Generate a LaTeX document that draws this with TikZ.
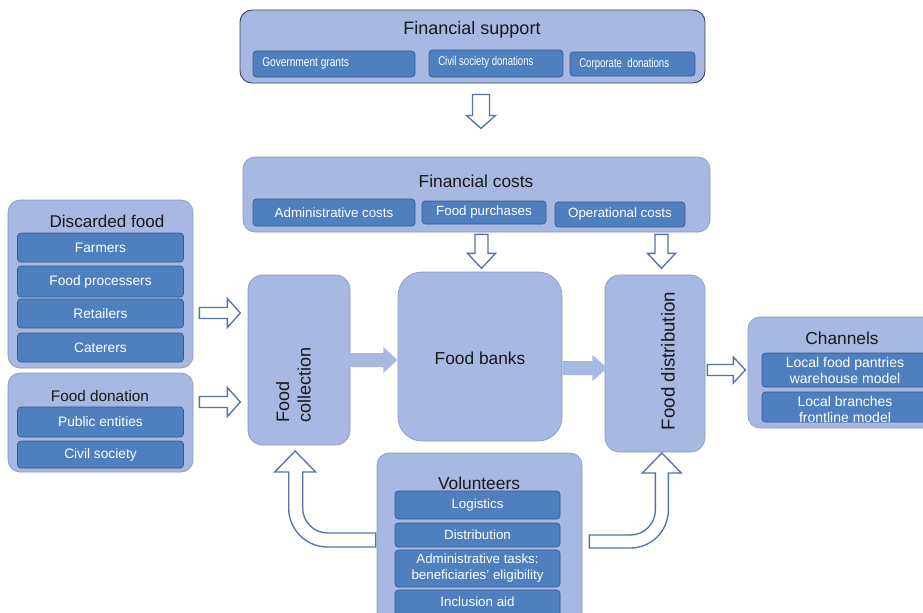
\documentclass[tikz,border=0pt]{standalone}
\usepackage{fontspec}
\setmainfont{Liberation Sans}
\usepackage{graphicx}
\usetikzlibrary{calc}
\definecolor{boxblue}{RGB}{167,184,226}
\definecolor{boxline}{RGB}{140,152,185}
\definecolor{darkline}{RGB}{60,65,85}
\definecolor{subblue}{RGB}{79,127,190}
\definecolor{subline}{RGB}{55,90,145}
\definecolor{arrline}{RGB}{85,115,165}
\newcommand\sx[2]{\scalebox{#1}[1]{#2}}
\newcommand\fs[1]{\fontsize{#1}{#1}\selectfont\baselineskip=1.2\baselineskip}
% down block arrow: style, start, length, shaft half, head half, head length
\newcommand\barrowD[6]{\path[#1] ($(#2)+(-#4,0)$) -- ($(#2)+(#4,0)$) -- ($(#2)+(#4,#3-#6)$) -- ($(#2)+(#5,#3-#6)$) -- ($(#2)+(0,#3)$) -- ($(#2)+(-#5,#3-#6)$) -- ($(#2)+(-#4,#3-#6)$) -- cycle;}
% right block arrow
\newcommand\barrowR[6]{\path[#1] ($(#2)+(0,-#4)$) -- ($(#2)+(#3-#6,-#4)$) -- ($(#2)+(#3-#6,-#5)$) -- ($(#2)+(#3,0)$) -- ($(#2)+(#3-#6,#5)$) -- ($(#2)+(#3-#6,#4)$) -- ($(#2)+(0,#4)$) -- cycle;}
\begin{document}
\begin{tikzpicture}[x=0.75pt,y=-0.75pt,
  outer/.style 2 args={draw=boxline, fill=boxblue, rounded corners=9pt, minimum width=#1*0.75pt, minimum height=#2*0.75pt, inner sep=0pt, line width=0.5pt},
  sub/.style 2 args={draw=subline, fill=subblue, rounded corners=2.5pt, minimum width=#1*0.75pt, minimum height=#2*0.75pt, inner sep=0pt, text=white, line width=0.5pt, align=center},
  ttl/.style={inner sep=0pt, text=black!90},
  stxt/.style={inner sep=0pt, text=white},
  barrow/.style={draw=arrline, fill=white, line width=1pt, line join=miter},
  farrow/.style={fill=boxblue},
]
\useasboundingbox (0,0) rectangle (923,612);
\fill[white] (0,0) rectangle (923,612);
\clip (0,0) rectangle (923,612);

% Financial support
\node[outer={465}{73}, draw=darkline, line width=0.7pt] (fsup) at (472.5,46.5) {};
\node[ttl, font=\fs{13.5}] (fsupt) at (472,30) {Financial support};
\node[sub={162}{26}] (gov) at (334,64) {};
\node[stxt, anchor=west, font=\fs{9.5}] (govt) at (262,63) {\sx{0.8}{Government grants}};
\node[sub={134}{27}] (civ) at (496,63.5) {};
\node[stxt, anchor=west, font=\fs{9.5}] (civt) at (438,62) {\sx{0.76}{Civil society donations}};
\node[sub={125}{24}] (corp) at (632.5,64) {};
\node[stxt, anchor=west, font=\fs{9.5}] (corpt) at (579,64.5) {\sx{0.76}{Corporate\ \ donations}};

% Financial costs
\node[outer={467}{75}] (fcost) at (476.5,194.5) {};
\node[ttl, font=\fs{13}] (fcostt) at (476,181) {Financial costs};
\node[sub={162}{27}, font=\fs{10}] (adm) at (334,212.5) {Administrative costs};
\node[sub={124}{23}, font=\fs{10}] (purch) at (484,212.5) {Food purchases};
\node[sub={130}{25}, font=\fs{10}] (oper) at (620,214.5) {Operational costs};

% Discarded food
\node[outer={185}{168}] (dfood) at (100.5,284) {};
\node[ttl, font=\fs{12.8}] (dfoodt) at (107,221) {Discarded food};
\node[sub={166}{29}, font=\fs{10.3}] (farm) at (100.5,247.5) {Farmers};
\node[sub={166}{31}, font=\fs{10.3}] (proc) at (100.5,281.5) {Food processers};
\node[sub={166}{29}, font=\fs{10.3}] (ret) at (100.5,313.5) {Retailers};
\node[sub={166}{29}, font=\fs{10.3}] (cat) at (100.5,347.5) {Caterers};

% Food donation
\node[outer={185}{99}] (fdon) at (100.5,422.5) {};
\node[ttl, font=\fs{11.5}] (fdont) at (100,396) {Food donation};
\node[sub={166}{30}, font=\fs{10.3}] (pub) at (100.5,422) {Public entities};
\node[sub={166}{27}, font=\fs{10.3}] (civs) at (100.5,454.5) {Civil society};

% Middle chain
\node[outer={102}{170}, rounded corners=11pt] (fcol) at (299,360) {};
\node[ttl, font=\fs{13.5}, rotate=90, align=left] (fcolt) at (293.5,384.5) {Food\\collection};
\node[outer={164}{169}, rounded corners=18pt] (fbank) at (480,356.5) {};
\node[ttl, font=\fs{13}] (fbankt) at (480,358) {Food banks};
\node[outer={100}{177}, rounded corners=11pt] (fdist) at (655,363.5) {};
\node[ttl, font=\fs{14}, rotate=90] (fdistt) at (668,361) {Food distribution};

% Channels
\node[outer={190}{111}] (chan) at (843,372.5) {};
\node[ttl, font=\fs{13}] (chant) at (842,338) {Channels};
\node[sub={172}{34}] (pant) at (848,370) {};
\node[stxt, font=\fs{10.5}, align=center] (pantt) at (845,370.5) {Local food pantries\\warehouse model};
\node[sub={172}{30}] (bran) at (848,407) {};
\begin{scope}
\clip (762,392) rectangle (935,421.5);
\node[stxt, font=\fs{10.5}, align=center] (brant) at (845,409.5) {Local branches\\frontline model};
\end{scope}

% Volunteers
\node[outer={205}{172}] (vol) at (479.5,539) {};
\node[ttl, font=\fs{13}] (volt) at (479,483) {Volunteers};
\node[sub={165}{28}, font=\fs{10}] (logi) at (477.5,505) {Logistics};
\node[sub={165}{24}, font=\fs{10}] (dist) at (477.5,535) {Distribution};
\node[sub={165}{37}, font=\fs{10}] (admt) at (477.5,568.5) {Administrative tasks:\\beneficiaries' eligibility};
\node[sub={165}{28}, font=\fs{10}] (incl) at (477.5,604) {};
\node[stxt, font=\fs{10}] (inclt) at (477.5,602) {Inclusion aid};

% connector coordinates
\coordinate (a1) at ($(fsup.south)+(8.5,11)$);
\coordinate (a2) at ($(purch.south)+(-2.5,10)$);
\coordinate (a3) at ($(oper.south)+(41.5,7)$);
\coordinate (a4) at ($(dfood.east)+(6,29)$);
\coordinate (a5) at ($(fdon.east)+(6,-20.5)$);
\coordinate (a6) at ($(fcol.east)+(-2,0)$);
\coordinate (a7) at ($(fbank.east)+(0,11.5)$);
\coordinate (a8) at ($(fdist.east)+(2,6.5)$);
\coordinate (u1) at ($(vol.west)+(-1,1)$);
\coordinate (u2) at ($(vol.east)+(7,2.5)$);

% outlined block arrows
\barrowD{barrow}{a1}{34}{8.5}{14.5}{13}
\barrowD{barrow}{a2}{34}{6.5}{14}{15}
\barrowD{barrow}{a3}{34}{6.5}{14}{15}
\barrowR{barrow}{a4}{41}{5.5}{14.5}{13}
\barrowR{barrow}{a5}{41}{5.5}{14.5}{13}
\barrowR{barrow}{a8}{38}{5.5}{13}{12}
% filled arrows
\barrowR{farrow}{a6}{49}{7}{13}{14}
\barrowR{farrow}{a7}{45}{7}{13}{15}

% U-shaped arrows from volunteers
\draw[barrow] (u1) ++(0,-7) -- ++(-48,0) arc[start angle=90,end angle=180,radius=25]
  -- ++(0,-36) -- ++(13,0) -- ++(-20.5,-21) -- ++(-20.5,21) -- ++(14,0) -- ++(0,36)
  arc[start angle=180,end angle=90,radius=39] -- ++(48,0) -- cycle;
\draw[barrow] (u2) ++(0,-6.5) -- ++(41,0) arc[start angle=90,end angle=0,radius=25]
  -- ++(0,-37) -- ++(-13,0) -- ++(19.5,-20) -- ++(19.5,20) -- ++(-13,0) -- ++(0,37)
  arc[start angle=0,end angle=90,radius=38] -- ++(-41,0) -- cycle;
\end{tikzpicture}
\end{document}
